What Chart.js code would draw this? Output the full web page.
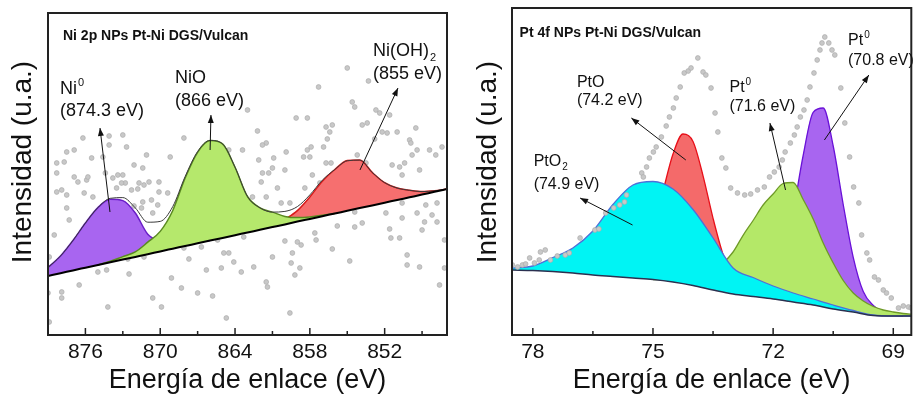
<!DOCTYPE html>
<html>
<head>
<meta charset="utf-8">
<script src="https://cdn.jsdelivr.net/npm/chart.js@4.4.0/dist/chart.umd.min.js"></script>
<style>
  html, body { margin: 0; padding: 0; background: #fff; }
  #wrap { position: relative; width: 916px; height: 399px; }
  .panel { position: absolute; top: 0; width: 458px; height: 399px; }
</style>
</head>
<body>
<div id="wrap">
  <div class="panel" style="left:0"><canvas id="niChart"></canvas></div>
  <div class="panel" style="left:458px"><canvas id="ptChart"></canvas></div>
</div>
<script>
const FONT = '"Liberation Sans", Arial, sans-serif';

// ---------- Ni 2p panel ----------
const niTicks = [876, 870, 864, 858, 852];
const niMinor = [873, 867, 861, 855, 849];

const niGridE = [879,878,877,876,875,874,873,872,871,870,869,868,867,866,865,864,863,862,861,860,859,858,857,856,855,854,853,852,851,850,849,848,847];
const niBackground = [59.1,61.8,64.6,67.3,70.0,72.7,75.4,78.1,80.8,83.6,86.3,89.0,91.7,94.4,97.1,99.8,102.5,105.2,107.9,110.6,113.4,116.1,118.8,121.5,124.2,126.9,129.6,132.3,135.0,137.7,140.4,143.2,145.9];
const niEnvelope = [67.5,79,94.5,112,127.4,136.7,137.4,127.1,112.8,113.6,128.3,158.5,183.5,194.6,191.1,167.8,138.5,127.2,122.9,123.6,128.4,140.1,154.8,165.5,174.2,174.9,162.6,152.3,147,144.7,143.4,144.2,145.9];

const ni0E = [879,878,877,876,875,874,873,872,871,870,869,868,867,866];
const ni0 = [67.5,79,94.5,112,127.4,135.7,134.4,122,100.8,93.6,90.3,90.5,92.5,94.6];

const nioE = [875,874,873,872,871,870,869,868,867,866,865,864,863,862,861,860,859,858,857,856];
const nio = [70,73.7,78.4,83.1,92.8,103.6,124.3,157,182.7,194.4,191.1,167.8,138.5,127.2,122.9,118.6,117.4,118.1,119.8,121.5];

const nohE = [861,860,859,858,857,856,855,854,853,852,851,850,849,848,847];
const noh = [107.9,115.6,124.4,138.1,153.8,165.5,174.5,175,162.6,152.3,147,144.7,143.4,144.2,145.9];

// measured counts (eV, intensity)
const niCounts = [
  [874.1,199],[873.0,200],[874.1,190],[872.7,188],[876.2,197],[876.9,185],[877.5,183],[875.5,177],[874.6,178],[872.1,170],
  [871.1,180],[869.2,178],[868.1,197],[864.5,185],[878.3,172],[877.7,173],[871.4,167],[878.3,162],[877.9,145],[875.9,155],
  [874.4,162],[873.0,160],[872.8,152],[871.8,146],[870.9,153],[870.1,153],[869.4,142],[861.5,192],[861.0,167],[859.1,217],
  [858.2,217],[857.3,248],[856.7,208],[856.2,210],[856.6,196],[855.0,267],[854.6,233],[854.4,228],[853.3,254],[852.7,225],
  [852.4,222],[851.6,220],[852.2,203],[851.0,203],[850.0,195],[849.5,207],[848.4,185],[849.8,180],[847.4,188],[850.8,168],
  [850.6,160],[849.2,165],[861.8,162],[858.0,178],[857.9,188],[856.7,172],[853.5,172],[863.4,185],[862.1,175],[862.2,204],
  [861.8,190],[856.9,188],[849.9,192],[849.4,185],[847.9,180],[850.4,172],[860.9,177],[859.9,183],[858.5,178],[856.3,172],
  [851.4,170],[860.0,165],[863.0,225],[853.8,210],[853.4,212],[856.4,203],[851.8,202],[852.8,196],[858.2,185],[854.2,180],
  [876.9,158],[875.8,158],[876.6,153],[873.4,160],[873.8,157],[873.1,152],[873.5,147],[872.3,145],[871.7,152],[871.3,150],
  [870.1,143],[878.3,143],[877.5,140],[876.1,142],[875.4,138],[871.4,133],[870.7,135],[870.2,130],[872.1,129],[871.5,127],
  [870.6,122],[877.3,115],[877.5,127],[878.5,100],[878.9,78],[872.6,76],[871.3,78],[875.0,63],[874.3,65],[872.5,61],
  [876.5,50],[877.9,43],[879.0,42],[877.9,37],[869.1,57],[868.3,47],[867.0,42],[865.8,39],[870.6,37],[869.9,28],
  [874.2,28],[878.9,13],[864.7,17],[866.7,88],[865.4,95],[864.9,82],[864.5,82],[864.1,73],[866.3,65],[865.1,67],
  [863.5,63],[867.7,76],[868.1,87],[863.3,98],[861.9,153],[861.3,162],[860.6,147],[857.8,160],[858.4,147],[857.2,152],
  [857.4,142],[862.6,138],[861.5,138],[860.3,132],[859.6,132],[856.3,132],[854.4,123],[851.9,122],[850.6,132],[850.6,117],
  [849.4,122],[848.7,130],[848.2,120],[847.8,132],[848.8,113],[847.8,113],[849.0,105],[851.5,97],[850.8,97],[851.6,106],
  [855.8,109],[854.4,108],[853.8,112],[857.6,102],[857.5,95],[860.0,94],[859.0,93],[858.7,90],[856.2,86],[859.4,82],
  [861.0,78],[847.2,95],[859.5,72],[858.8,67],[859.2,60],[862.5,68],[861.5,53],[861.4,48],[854.8,74],[850.2,80],
  [850.2,70],[849.2,68],[847.6,50],[847.2,67],[859.6,22]
];

// ---------- Pt 4f panel ----------
const ptTicks = [78, 75, 72, 69];
const ptMinor = [76.5, 73.5, 70.5];

const ptBgE = [78.5,78,77.5,77,76.5,76,75.5,75,74.5,74,73.5,73,72.5,72,71.5,71,70.5,70,69.5,69,68.5];
const ptBackground = [65,64.5,63.5,62,60,58.5,57,55.5,53,49.5,45,41,38.5,36,33,30,26,23,19.5,19,19];

const ptO2E = [78.5,78,77.5,77,76.5,76,75.5,75,74.5,74,73.5,73,72.5,72,71.5,71,70.5,70,69.5,69,68.5];
const ptO2 = [67,69,77.5,87,104,130.5,150,153.5,146,125.5,97,67,57.5,49,42,36,30,24.5,20,19,19];

const ptOE = [76,75.75,75.5,75.25,75,74.75,74.5,74.25,74,73.75,73.5,73.25,73,72.75,72.5];
const ptO = [59,60.3,66,80.5,106.5,143.8,181,201,193.5,159.2,116.7,80.4,57,45.2,40];

const pt716E = [75,74.5,74,73.75,73.5,73.25,73,72.75,72.5,72.25,72,71.75,71.5,71.25,71,70.75,70.5,70.25,70,69.75,69.5,69.25,69,68.75,68.5];
const pt716 = [55.5,55,56.5,59,65,72,83,99.7,114.5,130,141,151.5,152.5,135.5,116,92,72,54.5,42,34,28.5,25,23,21.5,20.5];

const pt708E = [72.5,72.25,72,71.75,71.5,71.25,71,70.75,70.5,70.25,70,69.75,69.5,69.25,69,68.75];
const pt708 = [39.5,42,52.7,78,123,179.5,222.7,227,189,130.5,77.7,43.4,29.5,23,20,19];

const ptCounts = [
  [78.51,70],[78.38,68],[78.26,70],[78.18,71],[78.08,77],[77.96,72],[77.84,75],[77.81,83],[77.69,85],[77.56,75],
  [77.39,79],[77.19,80],[77.09,82],[76.82,97],[76.45,105],[76.35,106],[76.18,122],[75.98,127],[75.83,130],[75.71,133],
  [75.66,140],[75.28,162],[75.24,158],[75.16,168],[75.09,177],[74.99,183],[74.92,188],[74.79,198],[74.67,209],[74.59,218],
  [74.49,227],[74.42,237],[74.32,248],[74.22,262],[74.12,264],[74.05,267],[73.88,277],[73.75,263],[73.68,260],[73.55,247],
  [73.45,222],[73.38,203],[73.28,177],[73.18,167],[73.06,147],[72.89,142],[72.71,140],[72.56,141],[72.39,145],[72.22,148],
  [72.09,158],[71.97,163],[71.85,168],[71.77,175],[71.70,183],[71.57,192],[71.47,200],[71.40,208],[71.32,218],[71.23,225],
  [71.15,235],[71.08,248],[70.98,262],[70.90,275],[70.83,285],[70.78,292],[70.71,298],[70.61,292],[70.53,285],[70.46,280],
  [70.31,247],[70.21,212],[70.09,178],[69.99,148],[69.86,132],[69.79,100],[69.66,82],[69.59,75],[69.47,58],[69.37,55],
  [69.25,45],[69.17,42],[69.05,37],[68.87,27],[68.75,29],[68.62,28],[68.55,27]
];

// ---------- annotations (data coordinates) ----------
const niLabels = [
  {x: 877.8, y: 295, text: 'Ni 2p NPs Pt-Ni DGS/Vulcan', size: 14, bold: true},
  {x: 878.04, y: 241, text: 'Ni', sup: '0', size: 18},
  {x: 878.04, y: 219, text: '(874.3 eV)', size: 18},
  {x: 868.82, y: 252, text: 'NiO', size: 18},
  {x: 868.82, y: 229, text: '(866 eV)', size: 18},
  {x: 852.94, y: 279, text: 'Ni(OH)', sub: '2', size: 18},
  {x: 852.94, y: 256, text: '(855 eV)', size: 18}
];
const niArrows = [
  {from: [874.03, 123], to: [874.83, 207]},
  {from: [866.0, 185], to: [865.93, 220]},
  {from: [853.98, 165], to: [850.93, 247]}
];
const ptLabels = [
  {x: 78.33, y: 298, text: 'Pt 4f NPs Pt-Ni DGS/Vulcan', size: 14, bold: true},
  {x: 76.9, y: 248, text: 'PtO', size: 16},
  {x: 76.9, y: 230, text: '(74.2 eV)', size: 16},
  {x: 77.98, y: 169, text: 'PtO', sub: '2', size: 16},
  {x: 77.98, y: 146, text: '(74.9 eV)', size: 16},
  {x: 73.09, y: 243, text: 'Pt', sup: '0', size: 16},
  {x: 73.09, y: 224, text: '(71.6 eV)', size: 16},
  {x: 70.13, y: 290, text: 'Pt', sup: '0', size: 16},
  {x: 70.13, y: 270, text: '(70.8 eV)', size: 16}
];
const ptArrows = [
  {from: [74.18, 175], to: [75.54, 217]},
  {from: [75.51, 110], to: [76.82, 137]},
  {from: [71.69, 145], to: [72.08, 212]},
  {from: [70.72, 195], to: [69.61, 260]}
];

const pts = (xs, ys) => xs.map((x, i) => ({x: x, y: ys[i]}));
const pairs = arr => arr.map(p => ({x: p[0], y: p[1]}));

// frame with inward ticks
const framePlugin = {
  id: 'frame',
  afterDraw(chart, args, opts) {
    const {ctx, chartArea: a, scales: {x}} = chart;
    ctx.save();
    ctx.strokeStyle = '#222';
    ctx.lineWidth = 2;
    ctx.strokeRect(a.left, a.top, a.right - a.left, a.bottom - a.top);
    ctx.lineWidth = 1.5;
    ctx.beginPath();
    opts.major.forEach(v => {
      const px = x.getPixelForValue(v);
      ctx.moveTo(px, a.bottom); ctx.lineTo(px, a.bottom - 7);
    });
    opts.minor.forEach(v => {
      const px = x.getPixelForValue(v);
      ctx.moveTo(px, a.bottom); ctx.lineTo(px, a.bottom - 4);
    });
    ctx.stroke();
    ctx.restore();
  }
};

// labels, arrows and rotated y title
const notesPlugin = {
  id: 'notes',
  afterDraw(chart, args, opts) {
    const {ctx, scales: {x, y}} = chart;
    ctx.save();
    ctx.fillStyle = '#111';
    ctx.strokeStyle = '#111';
    ctx.lineWidth = 1;
    opts.arrows.forEach(ar => {
      const x0 = x.getPixelForValue(ar.from[0]), y0 = y.getPixelForValue(ar.from[1]);
      const x1 = x.getPixelForValue(ar.to[0]), y1 = y.getPixelForValue(ar.to[1]);
      const ang = Math.atan2(y1 - y0, x1 - x0);
      ctx.beginPath(); ctx.moveTo(x0, y0); ctx.lineTo(x1, y1); ctx.stroke();
      ctx.beginPath();
      ctx.moveTo(x1, y1);
      ctx.lineTo(x1 - 8 * Math.cos(ang) + 3 * Math.sin(ang), y1 - 8 * Math.sin(ang) - 3 * Math.cos(ang));
      ctx.lineTo(x1 - 8 * Math.cos(ang) - 3 * Math.sin(ang), y1 - 8 * Math.sin(ang) + 3 * Math.cos(ang));
      ctx.closePath(); ctx.fill();
    });
    ctx.textBaseline = 'alphabetic';
    ctx.textAlign = 'left';
    opts.labels.forEach(l => {
      const px = x.getPixelForValue(l.x), py = y.getPixelForValue(l.y);
      ctx.font = (l.bold ? 'bold ' : '') + l.size + 'px ' + FONT;
      ctx.fillText(l.text, px, py);
      if (l.sup || l.sub) {
        const w = ctx.measureText(l.text).width;
        ctx.font = Math.round(l.size * 0.62) + 'px ' + FONT;
        if (l.sup) ctx.fillText(l.sup, px + w + 1, py - l.size * 0.45);
        if (l.sub) ctx.fillText(l.sub, px + w + 1, py + l.size * 0.25);
      }
    });
    // y axis title
    ctx.font = '28px ' + FONT;
    ctx.textAlign = 'center';
    ctx.textBaseline = 'middle';
    ctx.translate(opts.yTitle.x, opts.yTitle.y);
    ctx.rotate(-Math.PI / 2);
    ctx.fillText('Intensidad (u.a.)', 0, 0);
    ctx.restore();
  }
};

function xAxis(min, max, ticks) {
  return {
    type: 'linear', reverse: true, min: min, max: max,
    afterBuildTicks: s => { s.ticks = ticks.map(v => ({value: v})); },
    grid: {display: false, drawTicks: false},
    border: {display: false},
    ticks: {font: {size: 21, family: FONT}, color: '#111', padding: 5, maxRotation: 0},
    title: {display: true, text: 'Energía de enlace (eV)', font: {size: 27, family: FONT}, color: '#111', padding: {top: 0, bottom: 2}},
    afterFit: s => { s.height = 64; }
  };
}
function yAxis(max, width) {
  return {
    min: 0, max: max,
    grid: {display: false, drawTicks: false},
    border: {display: false},
    ticks: {display: false},
    afterFit: s => { s.width = width; }
  };
}
const lineStyle = {showLine: true, pointRadius: 0, cubicInterpolationMode: 'monotone'};

// Ni 2p chart
new Chart(document.getElementById('niChart'), {
  type: 'scatter',
  data: {
    datasets: [
      {data: pairs(niCounts), pointRadius: 2.4, pointBackgroundColor: '#c8c8c8', pointBorderColor: '#acacac', pointBorderWidth: 0.7, order: 10},
      {...lineStyle, data: pts(niGridE, niBackground), borderColor: '#000', borderWidth: 2, order: 1},
      {...lineStyle, data: pts(niGridE, niEnvelope), borderColor: '#3a3a3a', borderWidth: 1, order: 2},
      {...lineStyle, data: pts(ni0E, ni0), borderColor: '#6a1ec8', borderWidth: 1.5, backgroundColor: '#a865f0', fill: 1, order: 6},
      {...lineStyle, data: pts(nioE, nio), borderColor: '#5a8a20', borderWidth: 1.5, backgroundColor: '#b5e86c', fill: 1, order: 4},
      {...lineStyle, data: pts(nohE, noh), borderColor: '#d81a1a', borderWidth: 1.5, backgroundColor: '#f66f6f', fill: 1, order: 5}
    ]
  },
  options: {
    responsive: true, maintainAspectRatio: false, animation: false, events: [],
    layout: {padding: {left: 0, top: 13, right: 11, bottom: 0}},
    scales: {x: xAxis(847, 879, niTicks), y: yAxis(322, 48)},
    plugins: {
      legend: {display: false}, tooltip: {enabled: false},
      frame: {major: niTicks, minor: niMinor},
      notes: {labels: niLabels, arrows: niArrows, yTitle: {x: 23.5, y: 162}}
    }
  },
  plugins: [framePlugin, notesPlugin]
});

// Pt 4f chart
new Chart(document.getElementById('ptChart'), {
  type: 'scatter',
  data: {
    datasets: [
      {...lineStyle, data: pts(ptBgE, ptBackground), borderColor: '#2b3050', borderWidth: 1.5, order: 1},
      {...lineStyle, data: pts(ptO2E, ptO2), borderColor: '#4f6fd8', borderWidth: 1.3, backgroundColor: '#00f4f4', fill: 0, order: 2},
      {...lineStyle, data: pts(ptOE, ptO), borderColor: '#e8101a', borderWidth: 1.3, backgroundColor: '#f46a6a', fill: 0, order: 3},
      {...lineStyle, data: pts(pt716E, pt716), borderColor: '#6f9a28', borderWidth: 1.3, backgroundColor: '#b4e868', fill: 0, order: 4},
      {...lineStyle, data: pts(pt708E, pt708), borderColor: '#6a12d8', borderWidth: 1.3, backgroundColor: '#a865f0', fill: 0, order: 5},
      {data: pairs(ptCounts), pointRadius: 2.4, pointBackgroundColor: '#c8c8c8', pointBorderColor: '#acacac', pointBorderWidth: 0.7, order: 0}
    ]
  },
  options: {
    responsive: true, maintainAspectRatio: false, animation: false, events: [],
    layout: {padding: {left: 0, top: 8, right: 1, bottom: 0}},
    scales: {x: xAxis(68.55, 78.52, ptTicks), y: yAxis(327, 54)},
    plugins: {
      legend: {display: false}, tooltip: {enabled: false},
      frame: {major: ptTicks, minor: ptMinor},
      notes: {labels: ptLabels, arrows: ptArrows, yTitle: {x: 30.5, y: 162}}
    }
  },
  plugins: [framePlugin, notesPlugin]
});
</script>
</body>
</html>
